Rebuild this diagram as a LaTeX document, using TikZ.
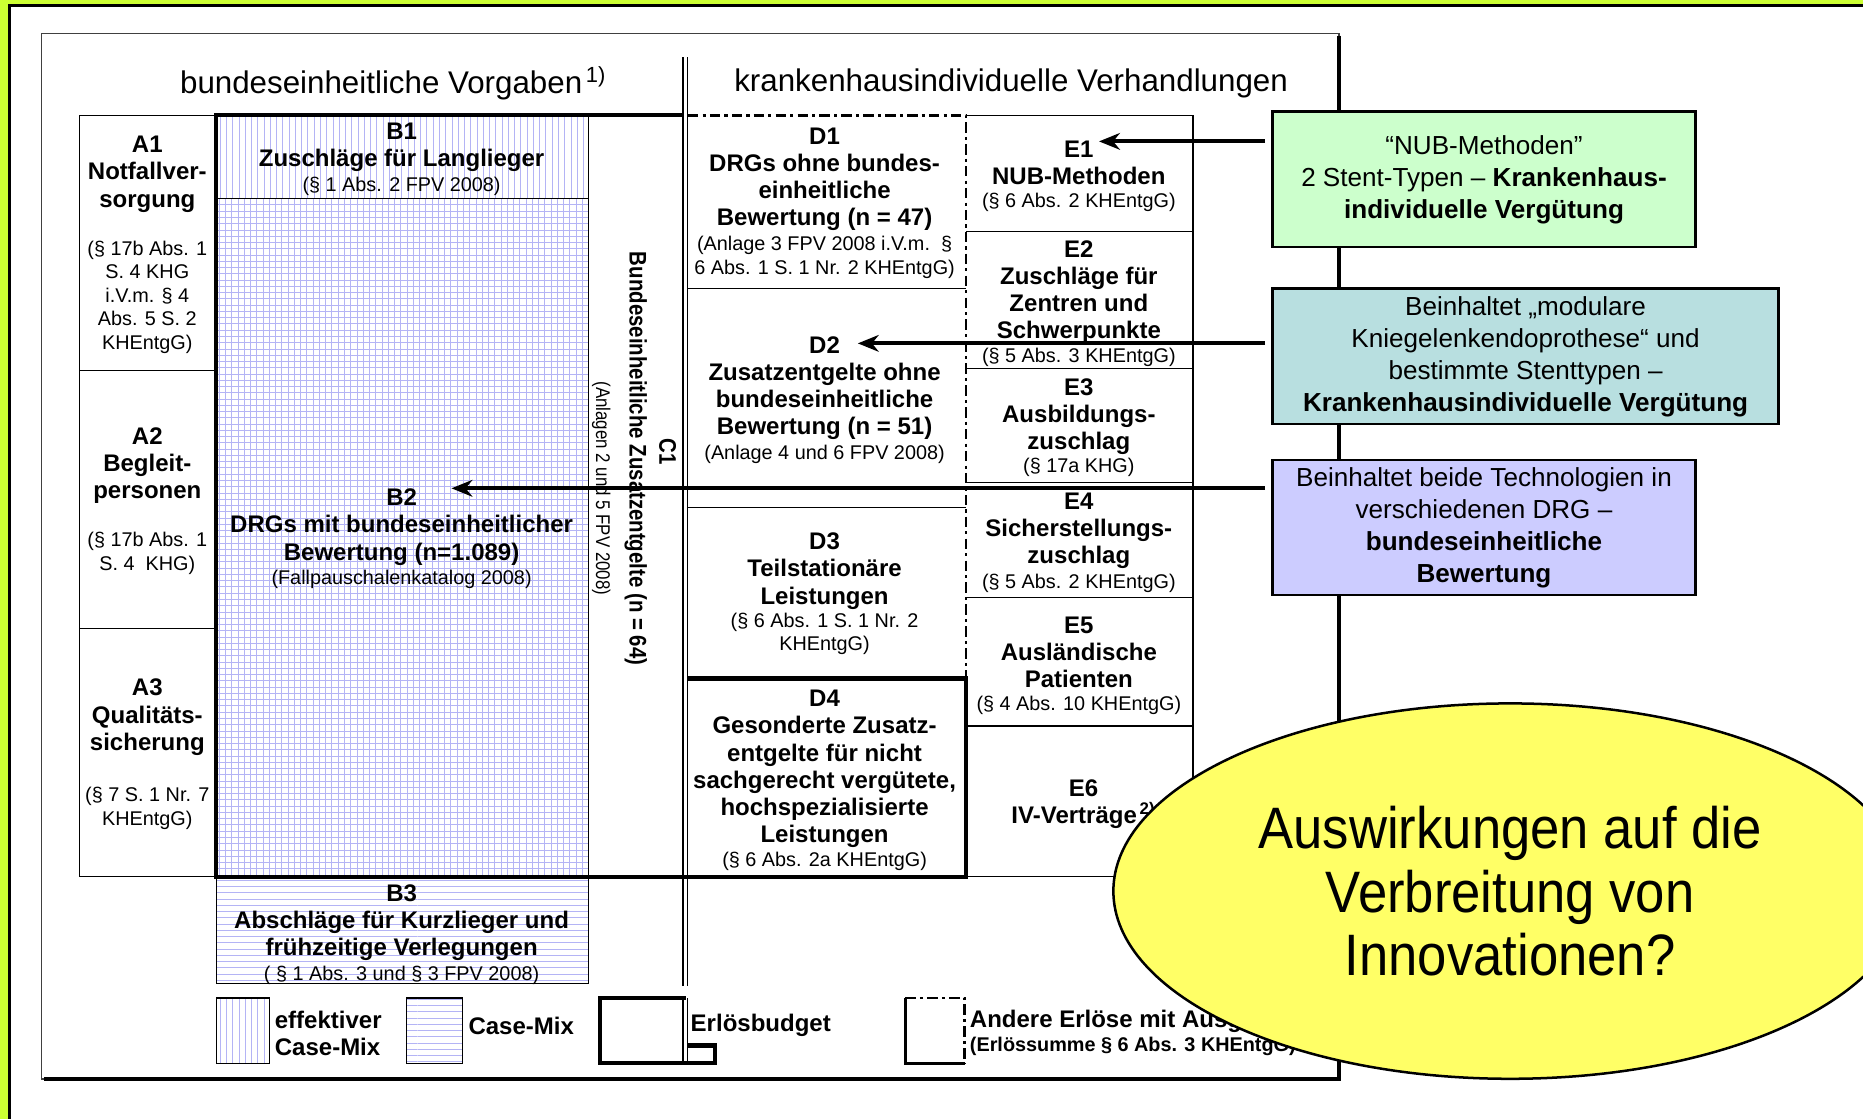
\documentclass[tikz,border=0pt]{standalone}
\usepackage{fontspec}
\setmainfont{Liberation Sans}
\newfontfamily\narrowfont[FakeStretch=0.85]{Liberation Sans}
\newfontfamily\balloonfont[FakeStretch=0.9]{Liberation Sans}
\usepackage{tikz}
\usetikzlibrary{arrows.meta,patterns,shapes.geometric}
\definecolor{slidegreen}{HTML}{CCFF33}
\definecolor{hatchblue}{HTML}{B4B4F5}
\definecolor{nubgreen}{HTML}{CCFFCC}
\definecolor{knieteal}{HTML}{B8DFE0}
\definecolor{drgviolet}{HTML}{CCCCFF}
\definecolor{balloonyellow}{HTML}{FFFF66}

\begin{document}
\begin{tikzpicture}[
    x=0.02cm, y=-0.02cm,
    >={Stealth[length=10pt,width=8pt]},
    cell/.style={draw, line width=0.6pt},
    budget/.style={draw, line width=2pt},
    dashdot/.style={draw, line width=1.3pt, dash pattern=on 5pt off 2pt on 1.5pt off 2pt},
    lbl/.style={inner sep=0pt, yshift=-1.5pt, align=center, font=\fontsize{11.5}{13}\selectfont\bfseries},
    ref/.style={inner sep=0pt, yshift=-1.5pt, align=center, font=\fontsize{9.5}{11.3}\selectfont},
    head/.style={inner sep=0pt, yshift=-1.2pt, font=\fontsize{15}{18}\selectfont},
    vlbl/.style={inner sep=0pt, rotate=-90, font=\narrowfont\fontsize{11.5}{13}\selectfont\bfseries},
    vref/.style={inner sep=0pt, rotate=-90, font=\narrowfont\fontsize{9.5}{11.3}\selectfont},
    note/.style={
        rectangle,
        draw,
        line width=1.2pt,
        align=center,
        inner sep=0pt,
        minimum height=2.28cm,
        font=\fontsize{12.5}{15.3}\selectfont
    },
    pointer/.style={->, line width=2pt, shorten <=3pt}
]
    \useasboundingbox (0,0) rectangle (1568,942);
    \clip (0,0) rectangle (1568,942);

    % === SLIDE BORDER ===
    \fill[slidegreen] (0,0) rectangle (1568,4);
    \fill[slidegreen] (0,0) rectangle (7,942);
    \draw[line width=1.4pt] (1568,5) -- (8,5) -- (8,942);

    % === OUTER FRAME ===
    \draw[line width=0.7pt, black!75] (35,28) rectangle (1127,908);
    \draw[line width=2pt] (1127,30) -- (1127,908) -- (37,908);

    % double divider
    \draw[line width=0.7pt] (575,48) -- (575,830);
    \draw[line width=0.7pt] (578.5,48) -- (578.5,830);

    % headings
    \node[head] (hdbund) at (331,68) {bundeseinheitliche Vorgaben\textsuperscript{\,1)}};
    \node[head] (hdkrank) at (851,68) {krankenhausindividuelle Verhandlungen};

    % === COLUMN A ===
    \foreach \ya/\yb in {97/312, 312/529, 529/738}
        \draw[cell] (67,\ya) rectangle (182,\yb);

    \node[lbl] (a1) at (124,144) {A1\\Notfallver-\\sorgung};
    \node[ref] (a1ref) at (124,247.5) {(§ 17b Abs. 1\\S. 4 KHG\\i.V.m. § 4\\Abs. 5 S. 2\\KHEntgG)};
    \node[lbl] (a2) at (124,389) {A2\\Begleit-\\personen};
    \node[ref] (a2ref) at (124,463) {(§ 17b Abs. 1\\S. 4~~KHG)};
    \node[lbl] (a3) at (124,601) {A3\\Qualitäts-\\sicherung};
    \node[ref] (a3ref) at (124,677.5) {(§ 7 S. 1 Nr. 7\\KHEntgG)};

    % === COLUMN B ===
    \fill[pattern=vertical lines, pattern color=hatchblue] (182,97) rectangle (495,167);
    \fill[pattern=grid, pattern color=hatchblue] (182,167) rectangle (495,738);
    \fill[pattern=horizontal lines, pattern color=hatchblue] (182,738) rectangle (495,828);
    \draw[cell] (182,167) -- (495,167);
    \draw[cell] (495,97) -- (495,828) -- (182,828) -- (182,738);

    \node[lbl] (b1) at (338,121.5) {B1\\Zuschläge für Langlieger};
    \node[ref] (b1ref) at (338,154) {(§ 1 Abs. 2 FPV 2008)};
    \node[lbl] (b2) at (338,441) {B2\\DRGs mit bundeseinheitlicher\\Bewertung (n=1.089)};
    \node[ref] (b2ref) at (338,485) {(Fallpauschalenkatalog 2008)};
    \node[lbl] (b3) at (338,774) {B3\\Abschläge für Kurzlieger und\\frühzeitige Verlegungen};
    \node[ref] (b3ref) at (338,818) {( § 1 Abs. 3 und § 3 FPV 2008)};

    % === COLUMN C ===
    \node[vlbl] (c1) at (562,380) {C1};
    \node[vlbl] (c1txt) at (535,386) {Bundeseinheitliche Zusatzentgelte (n = 64)};
    \node[vref] (c1ref) at (506,411) {(Anlagen 2 und 5 FPV 2008)};

    % === COLUMNS D AND E ===
    \draw[cell] (579,243) -- (813,243);
    \draw[cell] (579,427) -- (813,427);
    \draw[dashdot] (579,97) -- (813,97) -- (813,571);
    \draw[cell] (813,97) -- (1004,97) -- (1004,738) -- (813,738);
    \foreach \y in {195,310,406,503,611}
        \draw[cell] (813,\y) -- (1004,\y);

    \node[lbl] (d1) at (694,148.5) {D1\\DRGs ohne bundes-\\einheitliche\\Bewertung (n = 47)};
    \node[ref] (d1ref) at (694,214) {(Anlage 3 FPV 2008 i.V.m.~~§\\6 Abs. 1 S. 1 Nr. 2 KHEntgG)};
    \node[lbl] (d2) at (694,324) {D2\\Zusatzentgelte ohne\\bundeseinheitliche\\Bewertung (n = 51)};
    \node[ref] (d2ref) at (694,380) {(Anlage 4 und 6 FPV 2008)};
    \node[lbl] (d3) at (694,478) {D3\\Teilstationäre\\Leistungen};
    \node[ref] (d3ref) at (694,531) {(§ 6 Abs. 1 S. 1 Nr. 2\\KHEntgG)};
    \node[lbl] (d4) at (694,644.5) {D4\\Gesonderte Zusatz-\\entgelte für nicht\\sachgerecht vergütete,\\hochspezialisierte\\Leistungen};
    \node[ref] (d4ref) at (694,722) {(§ 6 Abs. 2a KHEntgG)};

    \node[lbl] (e1) at (908,134.5) {E1\\NUB-Methoden};
    \node[ref] (e1ref) at (908,168) {(§ 6 Abs. 2 KHEntgG)};
    \node[lbl] (e2) at (908,243) {E2\\Zuschläge für\\Zentren und\\Schwerpunkte};
    \node[ref] (e2ref) at (908,298) {(§ 5 Abs. 3 KHEntgG)};
    \node[lbl] (e3) at (908,348) {E3\\Ausbildungs-\\zuschlag};
    \node[ref] (e3ref) at (908,391) {(§ 17a KHG)};
    \node[lbl] (e4) at (908,444) {E4\\Sicherstellungs-\\zuschlag};
    \node[ref] (e4ref) at (908,488) {(§ 5 Abs. 2 KHEntgG)};
    \node[lbl] (e5) at (908,546.5) {E5\\Ausländische\\Patienten};
    \node[ref] (e5ref) at (908,591) {(§ 4 Abs. 10 KHEntgG)};
    \node[lbl] (e6) at (912,674) {E6\\IV-Verträge\textsuperscript{\,2)}};

    % === ERLOESBUDGET OUTLINE ===
    \draw[budget] (575,97) -- (182,97) -- (182,738) -- (813,738) -- (813,571) -- (578.5,571);

    % === LEGEND ===
    \draw[cell, pattern=vertical lines, pattern color=hatchblue] (182,840) rectangle (227,895);
    \node[lbl, anchor=west, align=left] (legeff) at (231,867) {effektiver\\Case-Mix};
    \draw[cell, pattern=horizontal lines, pattern color=hatchblue] (342,840) rectangle (389,895);
    \node[lbl, anchor=west] (legcm) at (394,861) {Case-Mix};
    \draw[budget] (577,840) -- (505,840) -- (505,895) -- (602,895) -- (602,880) -- (578.5,880);
    \draw[line width=0.7pt] (575,840) -- (575,895) (578.5,840) -- (578.5,895);
    \node[lbl, anchor=west] (legbudget) at (581,860) {Erlösbudget};
    \draw[line width=1.4pt] (762,840) -- (762,895) -- (812,895);
    \draw[dashdot] (762,840) -- (812,840) -- (812,895);
    \node[lbl, anchor=west] (legother) at (816,857) {Andere Erlöse mit Ausgleich};
    \node[ref, anchor=west, font=\fontsize{9.5}{11.3}\selectfont\bfseries] (legsum) at (816,878) {(Erlössumme § 6 Abs. 3 KHEntgG)};

    % === TECHNOLOGY NOTES ===
    \node[note, fill=nubgreen, minimum width=7.12cm] (nubbox) at (1249,151)
        {“NUB-Methoden”\\2 Stent-Typen – \textbf{Krankenhaus-}\\\textbf{individuelle Vergütung}};
    \node[note, fill=knieteal, minimum width=8.52cm] (kniebox) at (1284,300)
        {Beinhaltet „modulare\\Kniegelenkendoprothese“ und\\bestimmte Stenttypen –\\\textbf{Krankenhausindividuelle Vergütung}};
    \node[note, fill=drgviolet, minimum width=7.12cm] (drgbox) at (1249,444)
        {Beinhaltet beide Technologien in\\verschiedenen DRG –\\\textbf{bundeseinheitliche}\\\textbf{Bewertung}};

    % arrows into the table
    \coordinate (e1tip) at (925,119);
    \coordinate (d2tip) at (722,289);
    \coordinate (b2tip) at (380,411);
    \draw[pointer] (nubbox.west |- e1tip) -- (e1tip);
    \draw[pointer] (kniebox.west |- d2tip) -- (d2tip);
    \draw[pointer] (drgbox.west |- b2tip) -- (b2tip);

    % === QUESTION BALLOON ===
    \node[ellipse, draw, line width=1.2pt, fill=balloonyellow, minimum width=13.36cm, minimum height=6.32cm,
          inner sep=0pt, align=center, font=\balloonfont\fontsize{28}{30.6}\selectfont] (question) at (1271,750)
        {Auswirkungen auf die\\Verbreitung von\\Innovationen?};
\end{tikzpicture}
\end{document}
